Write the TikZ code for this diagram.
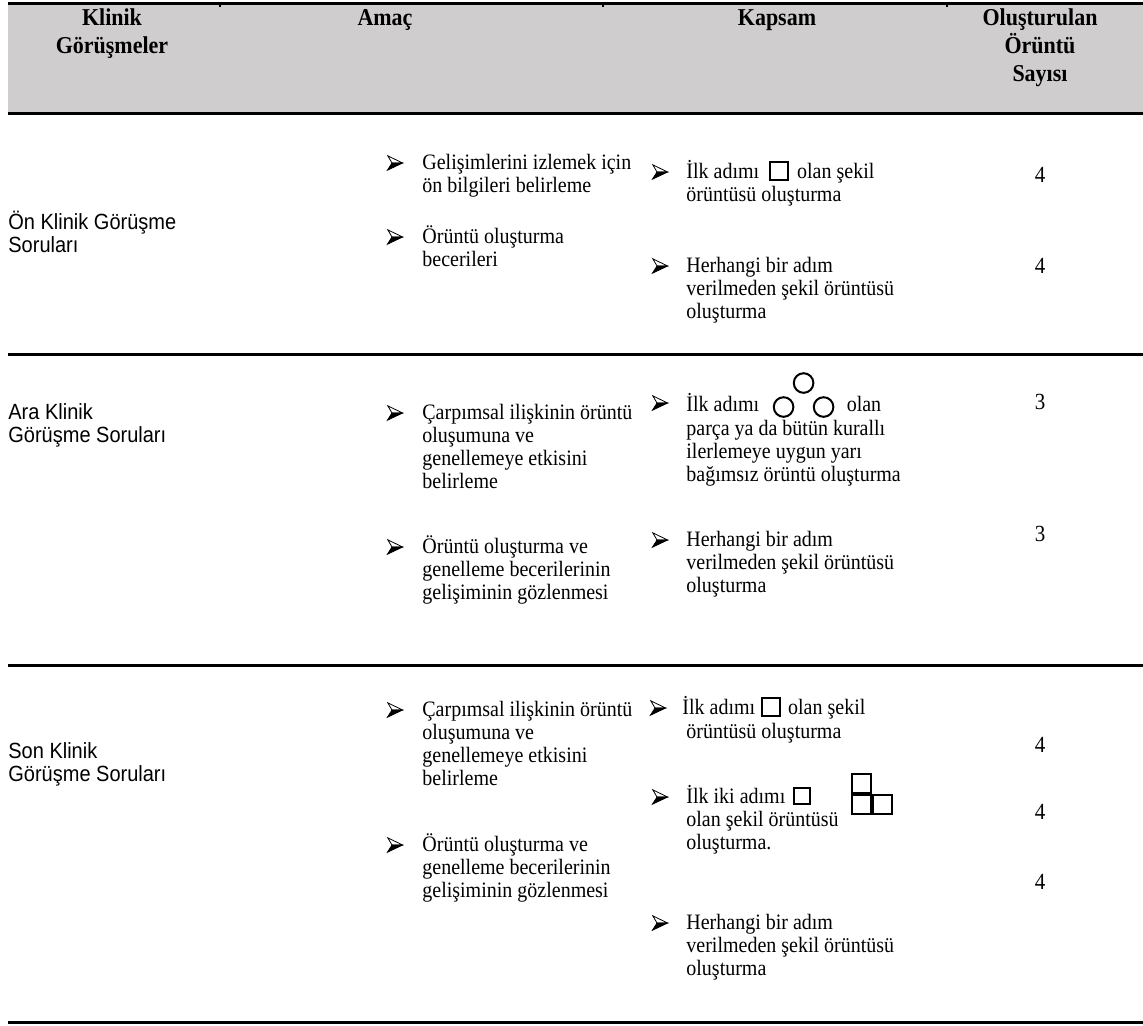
\documentclass[tikz,border=0pt]{standalone}
\usepackage{fontspec}
\setmainfont{Liberation Serif}
\newfontfamily\labelsans{Liberation Sans}
\newcommand\rowsl[1]{\begin{tabular}[t]{@{}l@{}}#1\end{tabular}}
\newcommand\rowsc[1]{\begin{tabular}[t]{@{}c@{}}#1\end{tabular}}
\definecolor{headgray}{RGB}{207,205,206}
\begin{document}
\begin{tikzpicture}[x=0.5pt,y=-0.5pt,
  body/.style={inner sep=0pt,anchor=base west,yscale=1.1,font=\fontsize{10}{10.6}\selectfont},
  side/.style={inner sep=0pt,anchor=base west,yscale=1.1,font=\labelsans\fontsize{10}{10.6}\selectfont},
  head/.style={inner sep=0pt,anchor=base,yscale=1.1,font=\fontsize{11}{12.8}\selectfont\bfseries},
  count/.style={inner sep=0pt,anchor=base,yscale=1.1,font=\fontsize{10.5}{11}\selectfont},
  arrowbul/.style={minimum width=8.6pt,minimum height=8.2pt,inner sep=0pt,
    path picture={\begin{scope}[shift={(path picture bounding box.center)},x=1pt,y=1pt]
      \filldraw[fill=white,draw=black,line width=0.4pt,line join=miter]
        (3.8,0) -- (-3.6,3.6) -- (-1.5,0) -- cycle;
      \filldraw[black,line width=0.4pt,line join=miter]
        (3.8,0) -- (-1.5,0) -- (-3.8,-3.6) -- cycle;
    \end{scope}}},
  rulethick/.style={line width=1.5pt},
  sqr/.style={draw,line width=1.1pt,minimum size=9pt,inner sep=0pt},
  sqrsmall/.style={draw,line width=1.1pt,minimum size=8pt,inner sep=0pt},
  sqrbig/.style={draw,line width=1.1pt,minimum size=9.5pt,inner sep=0pt},
  ring/.style={draw,circle,line width=1pt,minimum size=9.8pt,inner sep=0pt}]
\useasboundingbox (0,0) rectangle (1143,1025);

% header band and rules
\fill[headgray] (8,5) rectangle (1143,112);
\draw[rulethick] (8,3) -- (1143,3);
\foreach \tx in {220,603,947} \draw[line width=0.8pt] (\tx,3) -- (\tx,7);
\draw[rulethick] (8,113) -- (1143,113);
\draw[rulethick] (8,354) -- (1143,354);
\draw[rulethick] (8,665) -- (1143,665);
\draw[rulethick] (8,1022) -- (1143,1022);

% header
\node[head] (h1) at (112,25) {\rowsc{Klinik\\Görüşmeler}};
\node[head] (h2) at (385,25) {Amaç};
\node[head] (h3) at (777,25) {Kapsam};
\node[head] (h4) at (1040,25) {\rowsc{Oluşturulan\\Örüntü\\Sayısı}};

% row 1
\node[side] (r1c1) at (8,229) {\rowsl{Ön Klinik Görüşme\\Soruları}};
\node[arrowbul] (r1b1) at (395,163) {};
\node[body] (r1a1) at (422,169) {\rowsl{Gelişimlerini izlemek için\\ön bilgileri belirleme}};
\node[arrowbul] (r1b2) at (395,237) {};
\node[body] (r1a2) at (422,243) {\rowsl{Örüntü oluşturma\\becerileri}};
\node[arrowbul] (r1b3) at (660,172) {};
\node[body] (r1k1) at (686,178) {İlk adımı};
\node[sqr,anchor=south west] (r1s) at ([xshift=4.5pt,yshift=-1.5pt]r1k1.base east) {};
\node[body,xshift=4pt] (r1k1b) at (r1s.east |- r1k1.base) {olan şekil};
\node[body] (r1k1c) at (686,201) {örüntüsü oluşturma};
\node[arrowbul] (r1b4) at (660,266) {};
\node[body] (r1k2) at (686,272) {\rowsl{Herhangi bir adım\\verilmeden şekil örüntüsü\\oluşturma}};
\node[count] (r1n1) at (1040,182) {4};
\node[count] (r1n2) at (1040,273) {4};

% row 2
\node[side] (r2c1) at (8,419) {\rowsl{Ara Klinik\\Görüşme Soruları}};
\node[arrowbul] (r2b1) at (395,413) {};
\node[body] (r2a1) at (422,419) {\rowsl{Çarpımsal ilişkinin örüntü\\oluşumuna ve\\genellemeye etkisini\\belirleme}};
\node[arrowbul] (r2b2) at (395,547) {};
\node[body] (r2a2) at (422,553) {\rowsl{Örüntü oluşturma ve\\genelleme becerilerinin\\gelişiminin gözlenmesi}};
\node[arrowbul] (r2b3) at (660,403) {};
\node[body] (r2k1) at (686,411) {İlk adımı};
\node[ring] (r2o1) at ([xshift=12pt,yshift=2pt]r2k1.base east) {};
\node[ring] (r2o2) at ([xshift=20pt]r2o1.center) {};
\node[ring] (r2o3) at ([xshift=10pt,yshift=12pt]r2o1.center) {};
\node[body,xshift=6pt] (r2k1b) at (r2o2.east |- r2k1.base) {olan};
\node[body] (r2k1c) at (686,435) {\rowsl{parça ya da bütün kurallı\\ilerlemeye uygun yarı\\bağımsız örüntü oluşturma}};
\node[arrowbul] (r2b4) at (660,540) {};
\node[body] (r2k2) at (686,546) {\rowsl{Herhangi bir adım\\verilmeden şekil örüntüsü\\oluşturma}};
\node[count] (r2n1) at (1040,409) {3};
\node[count] (r2n2) at (1040,541) {3};

% row 3
\node[side] (r3c1) at (8,758) {\rowsl{Son Klinik\\Görüşme Soruları}};
\node[arrowbul] (r3b1) at (395,710) {};
\node[body] (r3a1) at (422,716) {\rowsl{Çarpımsal ilişkinin örüntü\\oluşumuna ve\\genellemeye etkisini\\belirleme}};
\node[arrowbul] (r3b2) at (395,845) {};
\node[body] (r3a2) at (422,851) {\rowsl{Örüntü oluşturma ve\\genelleme becerilerinin\\gelişiminin gözlenmesi}};
\node[arrowbul] (r3b3) at (658,708) {};
\node[body] (r3k1) at (682,714) {İlk adımı};
\node[sqr,anchor=south west] (r3s1) at ([xshift=2.5pt,yshift=-1.5pt]r3k1.base east) {};
\node[body,xshift=3.5pt] (r3k1b) at (r3s1.east |- r3k1.base) {olan şekil};
\node[body] (r3k1c) at (686,738) {örüntüsü oluşturma};
\node[arrowbul] (r3b4) at (660,797) {};
\node[body] (r3k2) at (686,803) {İlk iki adımı};
\node[sqrsmall,anchor=south west] (r3s2) at ([xshift=3.5pt,yshift=-1pt]r3k2.base east) {};
\node[sqrbig,anchor=south west] (r3la) at ([xshift=20pt,yshift=-5pt]r3s2.south east) {};
\node[sqrbig,anchor=west] (r3lb) at (r3la.east) {};
\node[sqrbig,anchor=south] (r3lc) at (r3la.north) {};
\node[body] (r3k2c) at (686,826) {\rowsl{olan şekil örüntüsü\\oluşturma.}};
\node[arrowbul] (r3b5) at (660,923) {};
\node[body] (r3k3) at (686,929) {\rowsl{Herhangi bir adım\\verilmeden şekil örüntüsü\\oluşturma}};
\node[count] (r3n1) at (1040,752) {4};
\node[count] (r3n2) at (1040,819) {4};
\node[count] (r3n3) at (1040,889) {4};
\end{tikzpicture}
\end{document}
